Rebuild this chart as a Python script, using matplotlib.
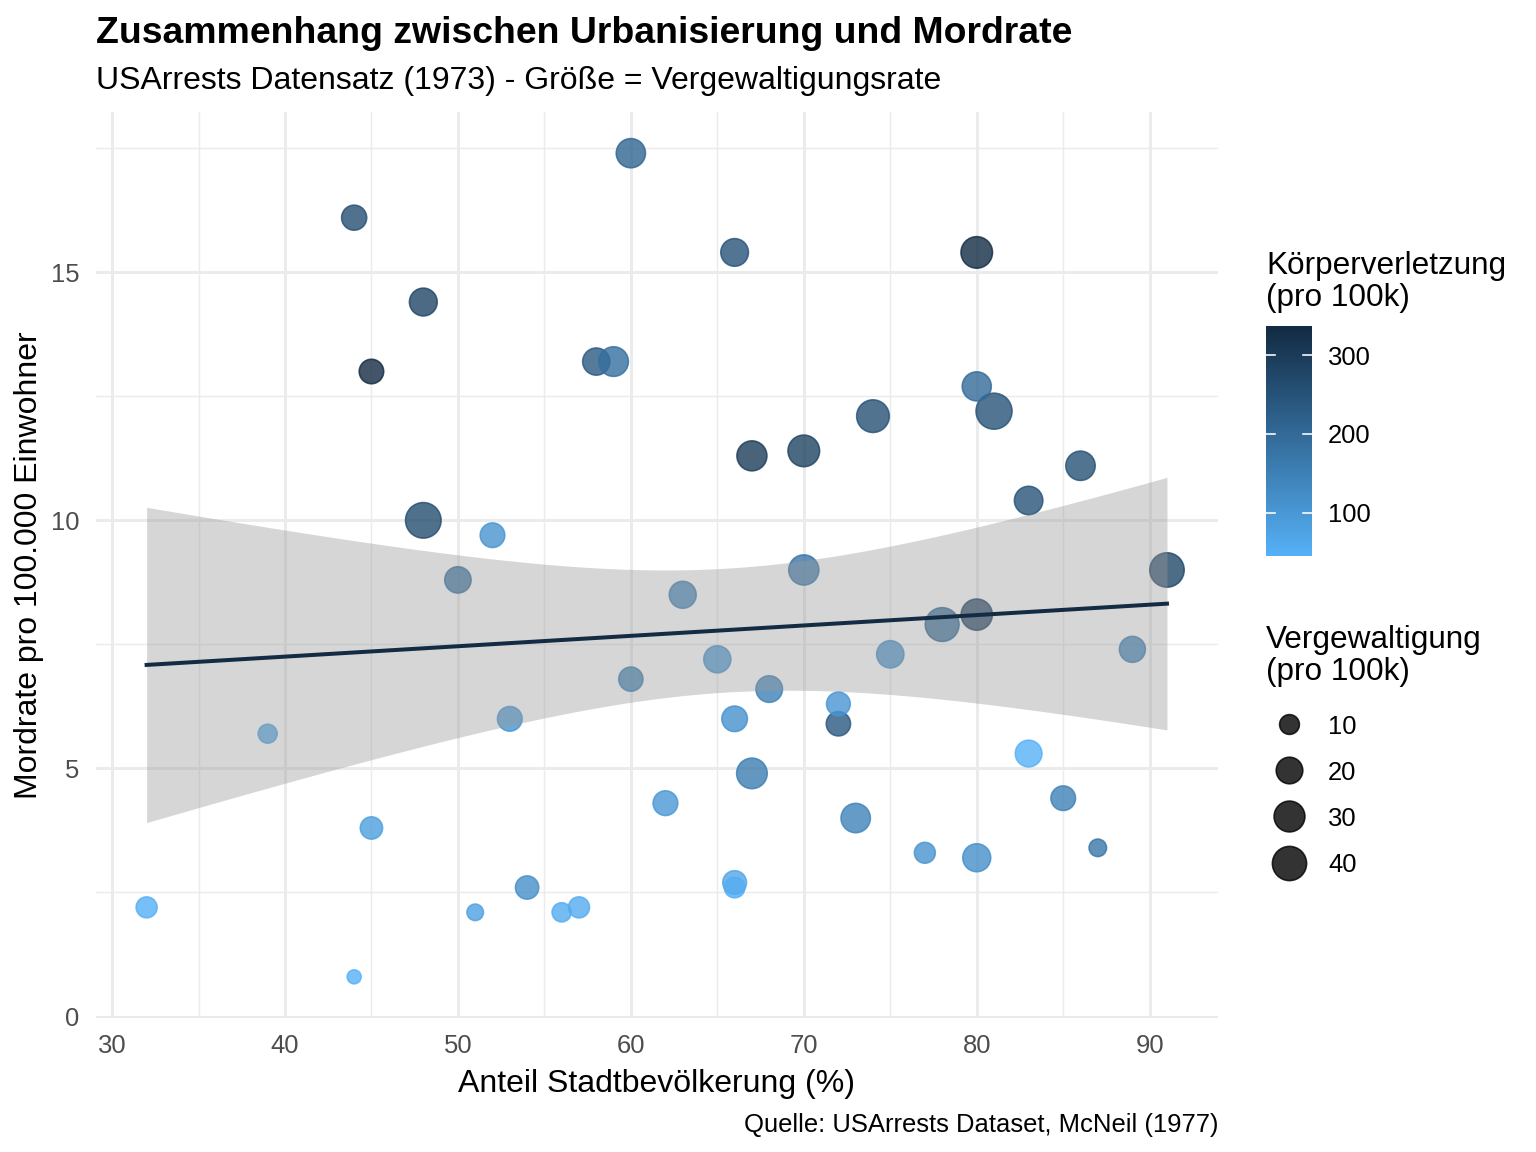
import numpy as np
import matplotlib
matplotlib.use("Agg")
import matplotlib.pyplot as plt
from matplotlib.colors import LinearSegmentedColormap, Normalize

plt.rcParams['font.family'] = ['Liberation Sans', 'DejaVu Sans']

# USArrests (1973)
urban_pop = [58, 48, 80, 50, 91, 78, 77, 72, 80, 60, 83, 54, 83, 65, 57, 66, 52, 66, 51, 67,
             85, 74, 66, 44, 70, 53, 62, 81, 56, 89, 70, 86, 45, 44, 75, 68, 67, 72, 87, 48,
             45, 59, 80, 80, 32, 63, 73, 39, 66, 60]
murder = [13.2, 10.0, 8.1, 8.8, 9.0, 7.9, 3.3, 5.9, 15.4, 17.4, 5.3, 2.6, 10.4, 7.2, 2.2, 6.0,
          9.7, 15.4, 2.1, 11.3, 4.4, 12.1, 2.7, 16.1, 9.0, 6.0, 4.3, 12.2, 2.1, 7.4, 11.4, 11.1,
          13.0, 0.8, 7.3, 6.6, 4.9, 6.3, 3.4, 14.4, 3.8, 13.2, 12.7, 3.2, 2.2, 8.5, 4.0, 5.7,
          2.6, 6.8]
assault = [236, 263, 294, 190, 276, 204, 110, 238, 335, 211, 46, 120, 249, 113, 56, 115, 109,
           249, 83, 300, 149, 255, 72, 259, 178, 109, 102, 252, 57, 159, 285, 254, 337, 45, 120,
           151, 159, 106, 174, 279, 86, 188, 201, 120, 48, 156, 145, 81, 53, 161]
rape = [21.2, 44.5, 31.0, 19.5, 40.6, 38.7, 11.1, 15.8, 31.9, 25.8, 20.2, 14.2, 24.0, 21.0, 11.3,
        18.0, 16.3, 22.2, 7.8, 27.8, 16.3, 35.1, 14.9, 17.1, 28.2, 16.4, 16.5, 46.0, 9.5, 18.8,
        32.1, 26.1, 16.1, 7.3, 21.4, 20.0, 29.3, 14.9, 8.3, 22.5, 12.8, 26.9, 25.5, 22.9, 11.2,
        20.7, 26.2, 9.3, 10.8, 15.6]

size_breaks = [10, 20, 30, 40]
color_breaks = [100, 200, 300]

W, H, DPI = 1536, 1152, 192
PX = 72 / DPI  # points per pixel

x = np.array(urban_pop, float)
y = np.array(murder, float)
a = np.array(assault, float)
r = np.array(rape, float)

cmap = LinearSegmentedColormap.from_list("gg", ["#56B1F7", "#132B43"])
norm = Normalize(a.min(), a.max())


def size_px(v):
    # ggplot area palette: sqrt of rescaled value
    return 14 + 22 * np.sqrt((np.asarray(v, float) - r.min()) / (r.max() - r.min()))


fig = plt.figure(figsize=(W / DPI, H / DPI), dpi=DPI)
ax = fig.add_axes([95.6 / W, 1 - 1018 / H, (1218 - 95.6) / W, (1018 - 112) / H])

# grid
for v in [30, 40, 50, 60, 70, 80, 90]:
    ax.axvline(v, color="#EBEBEB", lw=1.1, zorder=0)
for v in [35, 45, 55, 65, 75, 85]:
    ax.axvline(v, color="#EBEBEB", lw=0.55, zorder=0)
for v in [0, 5, 10, 15]:
    ax.axhline(v, color="#EBEBEB", lw=1.1, zorder=0)
for v in [2.5, 7.5, 12.5, 17.5]:
    ax.axhline(v, color="#EBEBEB", lw=0.55, zorder=0)

cols = cmap(norm(a))
ax.scatter(x, y, s=(size_px(r) * PX) ** 2, c=cols, edgecolors=cols, linewidths=0.6,
           alpha=0.8, zorder=2)

# lm fit with 95% band
n = len(x)
b1, b0 = np.polyfit(x, y, 1)
resid = y - (b0 + b1 * x)
sigma = np.sqrt(np.sum(resid ** 2) / (n - 2))
xs = np.linspace(x.min(), x.max(), 80)
se = sigma * np.sqrt(1 / n + (xs - x.mean()) ** 2 / np.sum((x - x.mean()) ** 2))
tq = 2.010635
fit = b0 + b1 * xs
ax.fill_between(xs, fit - tq * se, fit + tq * se, color="#999999", alpha=0.4, lw=0, zorder=3)
ax.plot(xs, fit, color="#132B43", lw=1.5, zorder=4)

ax.set_xlim(29.05, 93.95)
ax.set_ylim(-0.03, 18.23)
ax.set_xticks([30, 40, 50, 60, 70, 80, 90])
ax.set_yticks([0, 5, 10, 15])
ax.tick_params(length=0, labelsize=9.6, labelcolor="#4D4D4D", pad=6)
for s in ax.spines.values():
    s.set_visible(False)
ax.set_xlabel("Anteil Stadtbevölkerung (%)", fontsize=12, labelpad=4)
ax.set_ylabel("Mordrate pro 100.000 Einwohner", fontsize=12, labelpad=2.5)

# overlay in pixel coordinates for texts and legends
ov = fig.add_axes([0, 0, 1, 1], zorder=10)
ov.axis("off")

ov.text(96, 43, "Zusammenhang zwischen Urbanisierung und Mordrate", fontsize=14,
        fontweight="bold", va="baseline", ha="left")
ov.text(96, 89, "USArrests Datensatz (1973) - Größe = Vergewaltigungsrate", fontsize=12,
        va="baseline", ha="left")
ov.text(1218, 1132, "Quelle: USArrests Dataset, McNeil (1977)", fontsize=9.6,
        va="baseline", ha="right")

# colour legend
ov.text(1266, 306, "Körperverletzung\n(pro 100k)", fontsize=11.8, va="baseline", ha="left",
        linespacing=1.1)
grad = np.linspace(a.min(), a.max(), 256).reshape(-1, 1)
cb_top, cb_bot, cb_l, cb_r = 326, 556, 1266, 1312
ov.imshow(grad, cmap=cmap, norm=norm, extent=(cb_l, cb_r, cb_bot, cb_top), origin="lower",
          aspect="auto", interpolation="bilinear")
for v in color_breaks:
    yy = cb_bot - (v - a.min()) / (a.max() - a.min()) * (cb_bot - cb_top)
    ov.plot([cb_l, cb_l + 9], [yy, yy], color="white", lw=0.6)
    ov.plot([cb_r - 9, cb_r], [yy, yy], color="white", lw=0.6)
    ov.text(1328, yy, str(v), fontsize=9.6, va="center_baseline", ha="left")

# size legend
ov.text(1266, 680, "Vergewaltigung\n(pro 100k)", fontsize=11.8, va="baseline", ha="left",
        linespacing=1.1)
key_y = [724, 770, 816, 863]
for v, yy in zip(size_breaks, key_y):
    ov.scatter([1289], [yy], s=(size_px(v) * PX) ** 2, color="black", edgecolors="black",
               linewidths=0.6, alpha=0.8)
    ov.text(1328, yy, str(v), fontsize=9.6, va="center_baseline", ha="left")

ov.set_xlim(0, W)
ov.set_ylim(H, 0)

fig.savefig("out.png", dpi=DPI, facecolor="white")
